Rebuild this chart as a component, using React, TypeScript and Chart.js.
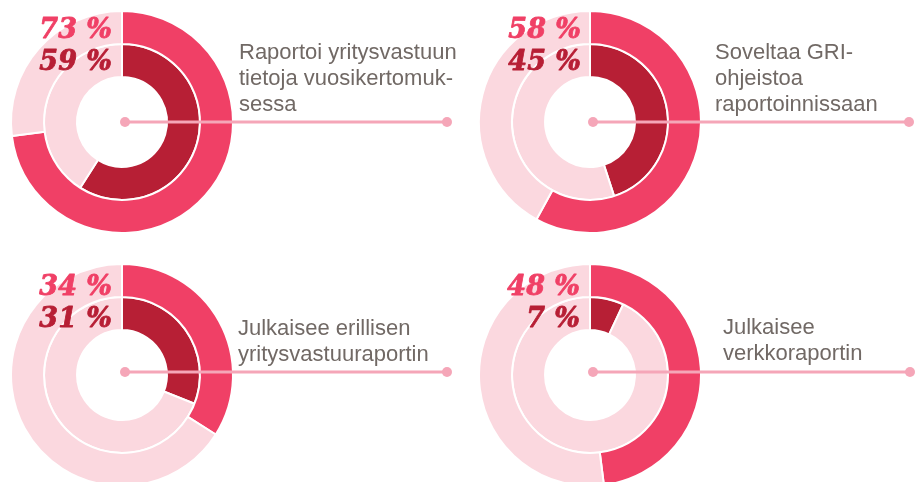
import React, { useEffect, useRef } from "react";
import { Chart, registerables } from "chart.js";

Chart.register(...registerables);

// ---- data ----
const outerValues = [73, 58, 34, 48];
const innerValues = [59, 45, 31, 7];
const captions = [
  ["Raportoi yritysvastuun", "tietoja vuosikertomuk-", "sessa"],
  ["Soveltaa GRI-", "ohjeistoa", "raportoinnissaan"],
  ["Julkaisee erillisen", "yritysvastuuraportin"],
  ["Julkaisee", "verkkoraportin"],
];

// ---- styles ----
const OUTER = "#f04066";
const INNER = "#b71f35";
const REST = "#fbd8df";
const LINE = "#f5a6b8";
const TEXT = "#716965";

// ---- layout (local canvas coordinates) ----
const layouts = [
  { left: 0, top: 0, w: 460, h: 241, cx: 122, cy: 122, lineY: 122, x0: 125, x1: 447, tx: 239, ty: 59, px: 112, py: 38 },
  { left: 460, top: 0, w: 460, h: 241, cx: 130, cy: 122, lineY: 122, x0: 133, x1: 449, tx: 255, ty: 59, px: 121, py: 38 },
  { left: 0, top: 241, w: 460, h: 241, cx: 122, cy: 134, lineY: 131, x0: 125, x1: 447, tx: 238, ty: 94, px: 112, py: 54 },
  { left: 460, top: 241, w: 460, h: 241, cx: 130, cy: 134, lineY: 131, x0: 133, x1: 450, tx: 263, ty: 93, px: 120, py: 54 },
];

function Donut({ index }: { index: number }) {
  const ref = useRef<HTMLCanvasElement | null>(null);
  const L = layouts[index];

  useEffect(() => {
    const canvas = ref.current;
    if (!canvas) return;
    const padTop = Math.max(0, 2 * L.cy - L.h);
    const padBottom = L.h - (2 * L.cy - padTop);
    const padRight = L.w - 2 * L.cx;

    const overlay = {
      id: "overlay" + index,
      afterDatasetsDraw(chart: any) {
        const ctx = chart.ctx as CanvasRenderingContext2D;
        ctx.save();
        // connector line
        ctx.strokeStyle = LINE;
        ctx.fillStyle = LINE;
        ctx.lineWidth = 3;
        ctx.beginPath();
        ctx.moveTo(L.x0, L.lineY);
        ctx.lineTo(L.x1, L.lineY);
        ctx.stroke();
        for (const x of [L.x0, L.x1]) {
          ctx.beginPath();
          ctx.arc(x, L.lineY, 5, 0, Math.PI * 2);
          ctx.fill();
        }
        // percentages
        ctx.font = "italic bold 27px 'DejaVu Serif', serif";
        ctx.textAlign = "right";
        ctx.textBaseline = "alphabetic";
        ctx.lineWidth = 0.8;
        ctx.lineJoin = "round";
        const t1 = outerValues[index] + " %";
        const t2 = innerValues[index] + " %";
        ctx.fillStyle = OUTER;
        ctx.strokeStyle = OUTER;
        ctx.fillText(t1, L.px, L.py);
        ctx.strokeText(t1, L.px, L.py);
        ctx.fillStyle = INNER;
        ctx.strokeStyle = INNER;
        ctx.fillText(t2, L.px, L.py + 32);
        ctx.strokeText(t2, L.px, L.py + 32);
        // caption
        ctx.font = "22px 'Liberation Sans', Arial, sans-serif";
        ctx.textAlign = "left";
        ctx.fillStyle = TEXT;
        captions[index].forEach((line, i) => {
          ctx.fillText(line, L.tx, L.ty + i * 26);
        });
        ctx.restore();
      },
    };

    const chart = new Chart(canvas, {
      type: "doughnut",
      data: {
        labels: ["value", "rest"],
        datasets: [
          {
            data: [outerValues[index], 100 - outerValues[index]],
            backgroundColor: [OUTER, REST],
            borderColor: "#ffffff",
            borderWidth: 2,
            clip: false,
          } as any,
          {
            data: [innerValues[index], 100 - innerValues[index]],
            backgroundColor: [INNER, REST],
            borderColor: "#ffffff",
            borderWidth: 2,
            clip: false,
          } as any,
        ],
      },
      options: {
        animation: false,
        responsive: false,
        devicePixelRatio: 1,
        events: [],
        radius: 111,
        cutout: "40.5%",
        layout: { padding: { left: 0, right: padRight, top: padTop, bottom: padBottom } },
        plugins: { legend: { display: false }, tooltip: { enabled: false } },
      } as any,
      plugins: [overlay],
    });
    return () => chart.destroy();
  }, [index]);

  return (
    <canvas
      ref={ref}
      width={L.w}
      height={L.h}
      style={{ position: "absolute", left: L.left, top: L.top, width: L.w, height: L.h, display: "block" }}
    />
  );
}

export default function App() {
  return (
    <div style={{ position: "absolute", left: 0, top: 0, width: 920, height: 482, background: "#ffffff", overflow: "hidden" }}>
      {layouts.map((_, i) => (
        <Donut key={i} index={i} />
      ))}
    </div>
  );
}
